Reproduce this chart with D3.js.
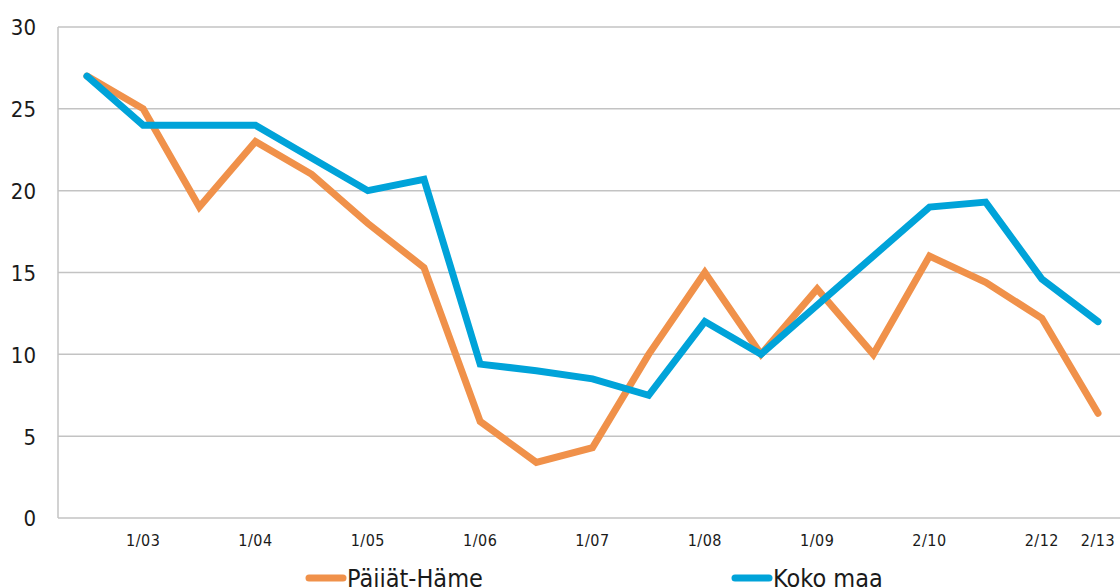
<!DOCTYPE html>
<html>
<head>
<meta charset="utf-8">
<script src="https://cdn.jsdelivr.net/npm/d3@7"></script>
<style>
  html, body { margin: 0; padding: 0; background: #fff; overflow: hidden; }
  text { font-family: "DejaVu Sans Condensed", "DejaVu Sans", sans-serif; fill: #1a1a1a; }
</style>
</head>
<body>
<script>
// x tick labels, one per data point (blank where the chart shows none)
var tickLabels = ["", "1/03", "", "1/04", "", "1/05", "", "1/06", "", "1/07",
                  "", "1/08", "", "1/09", "", "2/10", "", "2/12", "2/13"];

var paijatHame = [27, 25, 19, 23, 21, 18, 15.3, 5.9, 3.4, 4.3,
                  10, 15, 10, 14, 10, 16, 14.4, 12.2, 6.4];

var kokoMaa = [27, 24, 24, 24, 22, 20, 20.7, 9.4, 9.0, 8.5,
               7.5, 12, 10, 13, 16, 19, 19.3, 14.6, 12];

var seriesNames = ["Päijät-Häme", "Koko maa"];
var seriesColors = ["#F0914A", "#00A3D9"];

var width = 1120, height = 587;

var svg = d3.select("body")
  .append("svg")
  .attr("width", width)
  .attr("height", height);

var x = d3.scaleBand()
  .domain(d3.range(tickLabels.length))
  .range([58.9, 1126.1]);

var y = d3.scaleLinear()
  .domain([0, 30])
  .range([518, 27]);

// gridlines
svg.append("g")
  .selectAll("line")
  .data(y.ticks(6))
  .enter()
  .append("line")
  .attr("x1", 58)
  .attr("x2", width)
  .attr("y1", d => y(d))
  .attr("y2", d => y(d))
  .style("stroke", "#c3c3c3")
  .style("stroke-width", 1.5);

// left axis line
svg.append("line")
  .attr("x1", 58).attr("x2", 58)
  .attr("y1", y(30)).attr("y2", y(0))
  .style("stroke", "#c3c3c3")
  .style("stroke-width", 1.5);

// y labels
var yAxis = svg.append("g")
  .attr("transform", "translate(36,0)")
  .call(d3.axisLeft(y).ticks(6).tickSize(0).tickPadding(0));
yAxis.select(".domain").remove();
yAxis.selectAll("text")
  .style("font-size", "22px")
  .attr("dy", "0.36em");

// x labels
var xAxis = svg.append("g")
  .attr("transform", "translate(0,535)")
  .call(d3.axisBottom(x).tickSize(0).tickPadding(0).tickFormat(i => tickLabels[i]));
xAxis.select(".domain").remove();
xAxis.selectAll("text")
  .style("font-size", "16px")
  .style("letter-spacing", "0.5px")
  .attr("dy", "0.71em");

var line = d3.line()
  .x((d, i) => x(i) + x.bandwidth() / 2)
  .y(d => y(d));

[paijatHame, kokoMaa].forEach(function(values, k) {
  svg.append("path")
    .datum(values)
    .attr("d", line)
    .style("fill", "none")
    .style("stroke", seriesColors[k])
    .style("stroke-width", 7)
    .style("stroke-linejoin", "miter")
    .style("stroke-linecap", "round");
});

// legend (cut by the bottom edge, as in the original)
var legendX = [309, 735];
var legend = svg.selectAll(".legend")
  .data(seriesNames)
  .enter()
  .append("g")
  .attr("class", "legend")
  .attr("transform", (d, i) => "translate(" + legendX[i] + ",578)");

legend.append("line")
  .attr("x1", 0).attr("x2", 34)
  .style("stroke", (d, i) => seriesColors[i])
  .style("stroke-width", 7)
  .style("stroke-linecap", "round");

legend.append("text")
  .attr("x", 38)
  .attr("dy", "0.36em")
  .style("font-size", "25px")
  .text(d => d);
</script>
</body>
</html>
